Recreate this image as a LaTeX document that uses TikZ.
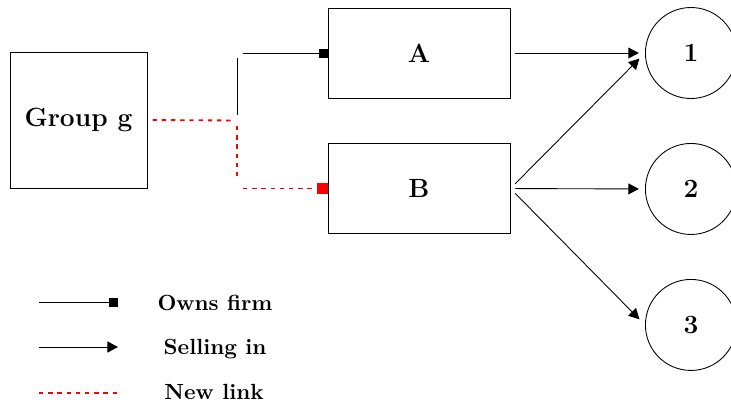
\documentclass[tikz,border=0pt]{standalone}
\usetikzlibrary{arrows.meta}
\tikzset{
  group/.style={draw, minimum width=62.5pt, minimum height=62pt, font=\large\bfseries},
  firm/.style={draw, minimum width=83pt, minimum height=41pt, font=\large\bfseries},
  market/.style={draw, circle, minimum size=41.5pt, inner sep=0pt, font=\large\bfseries},
  legtext/.style={font=\bfseries, anchor=base},
  owns/.style={-{Square[length=4pt,width=4pt]}},
  sells/.style={-{Triangle[length=4.8pt,width=5pt]}},
  newlink/.style={red, line width=0.85pt, dash pattern=on 2pt off 2.2pt},
}
\begin{document}
\begin{tikzpicture}[x=0.456pt, y=-0.456pt]
                \useasboundingbox (0,0) rectangle (731,407);
                \node (grp) [group] at (78.5,120) {Group g};
                \node (A) [firm] at (419,53) {A};
                \node (B) [firm, node distance=61.8pt, below of=A] {B};
                \node (m1) [market, node distance=124pt, right of=A] {1};
                \node (m2) [market, node distance=62pt, below of=m1] {2};
                \node (m3) [market, node distance=62pt, below of=m2] {3};
                % ownership links
                \coordinate (elbow) at (237.3,120.5);
                \coordinate (topk) at (elbow |- A.west);
                \coordinate (botk) at (elbow |- B.west);
                \draw[newlink, shorten <=2.3pt, shorten >=2.4pt] (grp.east) to (elbow);
                \draw[shorten <=2.5pt, shorten >=2.3pt] (elbow) to (topk);
                \draw[owns, shorten <=2.6pt] (topk) to (A.west);
                \draw[newlink, shorten <=2.5pt, shorten >=5pt] (elbow) to (botk);
                \draw[newlink, -{Square[length=5pt,width=5pt]}, shorten <=2.6pt] (botk) to (B.west);
                % markets
                \draw[sells, shorten <=2.3pt, shorten >=2.8pt] (A.east) to (m1.west);
                \draw[sells, shorten <=3pt, shorten >=3.6pt] (B.east) to (m1.west);
                \draw[sells, shorten <=2.3pt, shorten >=2.8pt] (B.east) to (m2.west);
                \draw[sells, shorten <=3pt, shorten >=3.6pt] (B.east) to (m3.west);
                % legend
                \coordinate (ownsL) at (39,302);
                \coordinate (ownsR) at (118,302);
                \coordinate (sellL) at (39,347);
                \coordinate (sellR) at (118,347);
                \coordinate (newL) at (39,393);
                \coordinate (newR) at (118,393);
                \draw[owns] (ownsL) to (ownsR);
                \draw[sells] (sellL) to (sellR);
                \draw[newlink] (newL) to (newR);
                \node (ownslbl) [legtext] at (215,310) {Owns firm};
                \node (selllbl) [legtext] at (215,354) {Selling in};
                \node (newlbl) [legtext] at (214,399) {New link};
            \end{tikzpicture}
\end{document}
